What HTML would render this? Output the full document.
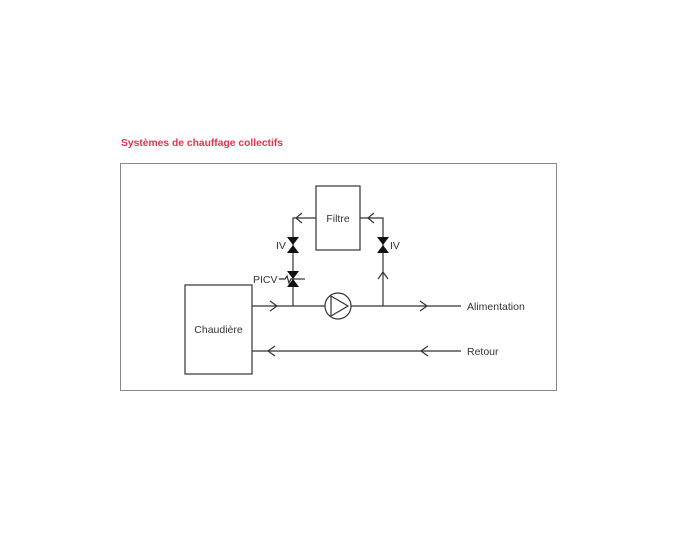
<!DOCTYPE html>
<html><head><style>body{margin:0;background:#fff}svg{display:block}</style></head><body>
<svg width="680" height="544" xmlns="http://www.w3.org/2000/svg" font-family="Liberation Sans, sans-serif">
<text x="121" y="146" font-size="10.4" font-weight="bold" fill="#e4324f" textLength="162" lengthAdjust="spacingAndGlyphs">Systèmes de chauffage collectifs</text>
<rect x="120.5" y="163.5" width="436" height="227" fill="none" stroke="#888" stroke-width="1"/>
<g stroke="#333" stroke-width="1.2" fill="none">
<rect x="316" y="186" width="44" height="64"/>
<rect x="185" y="285" width="67" height="89"/>
<line x1="252" y1="306" x2="461" y2="306"/>
<line x1="252" y1="351" x2="461" y2="351"/>
<polyline points="293,306 293,218 316,218"/>
<polyline points="383,306 383,218 360,218"/>
<circle cx="338" cy="306" r="13" fill="#fff"/>
<polyline points="331,296 348,306 331,316"/>
<line x1="331" y1="296" x2="331" y2="316"/>
<polyline points="270,301 277,306 270,311"/>
<polyline points="420,301 427,306 420,311"/>
<polyline points="275,346 268,351 275,356"/>
<polyline points="428,346 421,351 428,356"/>
<polyline points="302,213 296,218 302,223"/>
<polyline points="374,213 368,218 374,223"/>
<polyline points="378,279 383,272 388,279"/>
<path d="M279,279 H285 L287,276 L289,283 L291,279 H293"/>
<line x1="293" y1="279" x2="305" y2="279"/>
</g>
<g fill="#111">
<polygon points="287,237 299,237 293,245"/><polygon points="287,253 299,253 293,245"/>
<polygon points="377,237 389,237 383,245"/><polygon points="377,253 389,253 383,245"/>
<polygon points="287,271 299,271 293,279"/><polygon points="287,287 299,287 293,279"/>
</g>
<g font-size="10.5" fill="#333">
<text x="338" y="222" text-anchor="middle">Filtre</text>
<text x="218.5" y="333" text-anchor="middle">Chaudière</text>
<text x="276" y="249">IV</text>
<text x="390" y="249">IV</text>
<text x="253" y="283">PICV</text>
<text x="467" y="310">Alimentation</text>
<text x="467" y="355">Retour</text>
</g>
</svg>
</body></html>
